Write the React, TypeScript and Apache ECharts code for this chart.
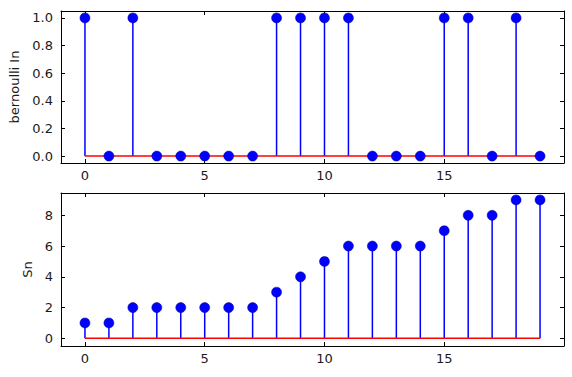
import React, { useEffect, useRef } from "react";
import * as echarts from "echarts";

const xValues = [0, 1, 2, 3, 4, 5, 6, 7, 8, 9, 10, 11, 12, 13, 14, 15, 16, 17, 18, 19];
const bernoulli = [1, 0, 1, 0, 0, 0, 0, 0, 1, 1, 1, 1, 0, 0, 0, 1, 1, 0, 1, 0];
const sn = [1, 1, 2, 2, 2, 2, 2, 2, 3, 4, 5, 6, 6, 6, 6, 7, 8, 8, 9, 9];
const topName = "bernoulli In";
const bottomName = "Sn";

const FONT = "DejaVu Sans";
const TXT = "#1a1a1a";

function onMultiple(v: number, step: number) {
  const r = v / step;
  return Math.abs(r - Math.round(r)) < 1e-6;
}

export default function App() {
  const ref = useRef<HTMLDivElement>(null);
  useEffect(() => {
    if (!ref.current) return;
    const chart = echarts.init(ref.current, undefined, { renderer: "svg" });

    const tick = { show: true, inside: true, length: 4, lineStyle: { color: "#000", width: 1 } };
    const line = { show: true, onZero: false, lineStyle: { color: "#000", width: 1 } };

    const mkX = (grid: number, pos: "bottom" | "top", labels: boolean) => ({
      type: "value",
      gridIndex: grid,
      position: pos,
      min: -1,
      max: 20,
      minInterval: 5,
      maxInterval: 5,
      axisLine: line,
      axisTick: tick,
      splitLine: { show: false },
      axisLabel: {
        show: labels,
        margin: 6,
        fontFamily: FONT,
        fontSize: 13,
        color: TXT,
        showMinLabel: false,
        showMaxLabel: false,
        formatter: (v: number) => (onMultiple(v, 5) && v > -1 && v < 20 ? String(Math.round(v)) : ""),
      },
    });

    const mkY = (
      grid: number,
      pos: "left" | "right",
      labels: boolean,
      min: number,
      max: number,
      step: number,
      digits: number,
      name: string,
      gap: number
    ) => ({
      type: "value",
      gridIndex: grid,
      position: pos,
      min,
      max,
      minInterval: step,
      maxInterval: step,
      name: labels ? name : "",
      nameLocation: "middle",
      nameGap: gap,
      nameTextStyle: { fontFamily: FONT, fontSize: 13, color: TXT },
      axisLine: line,
      axisTick: tick,
      splitLine: { show: false },
      axisLabel: {
        show: labels,
        margin: 8,
        fontFamily: FONT,
        fontSize: 13,
        color: TXT,
        formatter: (v: number) => (onMultiple(v, step) && v > min && v < max ? v.toFixed(digits) : ""),
      },
    });

    const stemSeries = (vals: number[], xi: number, yi: number) => ({
      type: "custom",
      xAxisIndex: xi,
      yAxisIndex: yi,
      data: xValues.map((x, i) => [x, vals[i]]),
      renderItem: (params: any, api: any) => {
        const x = api.value(0);
        const y = api.value(1);
        const p0 = api.coord([x, 0]);
        const p1 = api.coord([x, y]);
        return {
          type: "line",
          shape: { x1: p0[0], y1: p0[1], x2: p1[0], y2: p1[1] },
          style: { stroke: "#0000ff", lineWidth: 1.5 },
        };
      },
      z: 2,
    });

    const baseSeries = (xi: number, yi: number) => ({
      type: "line",
      xAxisIndex: xi,
      yAxisIndex: yi,
      data: [
        [xValues[0], 0],
        [xValues[xValues.length - 1], 0],
      ],
      symbol: "none",
      lineStyle: { color: "#ff0000", width: 1.5 },
      z: 3,
    });

    const markerSeries = (vals: number[], xi: number, yi: number) => ({
      type: "scatter",
      xAxisIndex: xi,
      yAxisIndex: yi,
      data: xValues.map((x, i) => [x, vals[i]]),
      symbol: "circle",
      symbolSize: 10,
      itemStyle: { color: "#0000ff", borderColor: "#00008b", borderWidth: 0.5, opacity: 1 },
      z: 4,
    });

    chart.setOption({
      animation: false,
      backgroundColor: "#fff",
      grid: [
        { left: 61, top: 11, width: 503, height: 152 },
        { left: 61, top: 193, width: 503, height: 153 },
      ],
      xAxis: [mkX(0, "bottom", true), mkX(0, "top", false), mkX(1, "bottom", true), mkX(1, "top", false)],
      yAxis: [
        mkY(0, "left", true, -0.05, 1.05, 0.2, 1, topName, 40),
        mkY(0, "right", false, -0.05, 1.05, 0.2, 1, topName, 40),
        mkY(1, "left", true, -0.5, 9.45, 2, 0, bottomName, 26),
        mkY(1, "right", false, -0.5, 9.45, 2, 0, bottomName, 26),
      ],
      series: [
        stemSeries(bernoulli, 0, 0),
        baseSeries(0, 0),
        markerSeries(bernoulli, 0, 0),
        stemSeries(sn, 2, 2),
        baseSeries(2, 2),
        markerSeries(sn, 2, 2),
      ],
    });
    return () => chart.dispose();
  }, []);
  return (
    <div
      ref={ref}
      style={{ position: "fixed", left: 0, top: 0, width: 572, height: 377, background: "#fff" }}
    />
  );
}
